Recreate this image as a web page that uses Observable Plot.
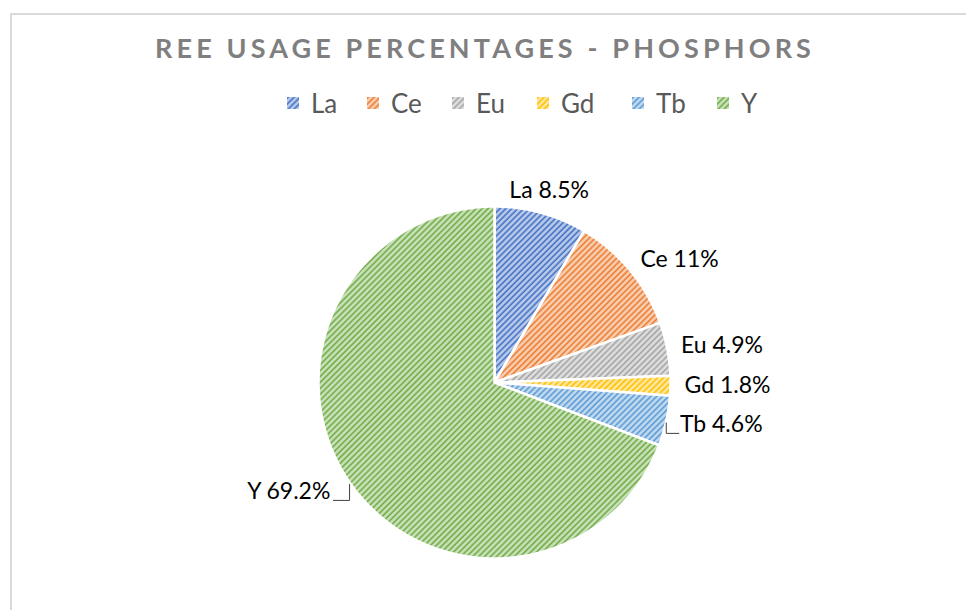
<!DOCTYPE html>
<html>
<head>
<meta charset="utf-8">
<script src="https://cdn.jsdelivr.net/npm/d3@7"></script>
<script src="https://cdn.jsdelivr.net/npm/@observablehq/plot@0.6"></script>
<style>
  html, body { margin: 0; padding: 0; background: #fff; }
  body { width: 966px; height: 610px; overflow: hidden; position: relative; font-family: Lato, "Open Sans", sans-serif; }
  #frame { position: absolute; left: 10px; top: 13px; width: 1000px; height: 700px; border-left: 2px solid #d9d9d9; border-top: 2px solid #d9d9d9; }
  #title { position: absolute; left: 0; top: 34px; width: 966px; text-align: center; font-weight: 700; font-size: 27px; line-height: 27px; color: #7f7f7f; white-space: nowrap; }
  #title span { display: inline-block; }
  #legend { position: absolute; left: 287px; top: 90px; height: 26px; width: 600px; font-size: 26px; line-height: 26px; color: #595959; }
  .item { position: absolute; top: 0; display: flex; align-items: center; height: 26px; }
  .item svg { margin-right: 12px; display: block; }
  .item:nth-child(1) { left: 0px; }
  .item:nth-child(2) { left: 80px; }
  .item:nth-child(3) { left: 165px; }
  .item:nth-child(4) { left: 250px; }
  .item:nth-child(5) { left: 345px; }
  .item:nth-child(6) { left: 430px; }
  #chart { position: absolute; left: 0; top: 130px; }
</style>
</head>
<body>
<div id="frame"></div>
<svg id="defs" width="0" height="0" style="position:absolute"><defs></defs></svg>
<div id="title"><span>REE USAGE PERCENTAGES - PHOSPHORS</span></div>
<div id="legend"></div>
<div id="chart"></div>
<script>
// ---- data ----
const categories = ["La", "Ce", "Eu", "Gd", "Tb", "Y"];
const values = [8.5, 11, 4.9, 1.8, 4.6, 69.2];
const labelTexts = ["La 8.5%", "Ce 11%", "Eu 4.9%", "Gd 1.8%", "Tb 4.6%", "Y 69.2%"];
const leaderFor = ["Tb", "Y"];
// ---- styles ----
const colors = ["#4472C4", "#ED7D31", "#A5A5A5", "#FFC000", "#5B9BD5", "#70AD47"];

// hatch patterns
const defs = d3.select("#defs defs");
categories.forEach((c, i) => {
  const tint = d3.interpolateRgb(colors[i], "#ffffff")(0.62);
  const p = defs.append("pattern")
    .attr("id", "pat-" + c)
    .attr("patternUnits", "userSpaceOnUse")
    .attr("width", 4.2).attr("height", 4.2)
    .attr("patternTransform", "rotate(45)");
  p.append("rect").attr("width", 4.2).attr("height", 4.2).attr("fill", tint);
  p.append("line").attr("x1", 1).attr("y1", -1).attr("x2", 1).attr("y2", 6)
    .attr("stroke", colors[i]).attr("stroke-width", 1.6);
});

// legend
const legend = d3.select("#legend");
categories.forEach((c) => {
  const it = legend.append("div").attr("class", "item");
  const s = it.append("svg").attr("width", 12).attr("height", 12);
  s.append("rect").attr("width", 12).attr("height", 12).attr("fill", `url(#pat-${c})`);
  it.append("span").text(c);
});

// fit title letter spacing to target width
(function () {
  const sp = document.querySelector("#title span");
  const target = 660;
  const w = sp.getBoundingClientRect().width;
  const n = sp.textContent.length;
  sp.style.letterSpacing = ((target - w) / n) + "px";
  sp.style.marginRight = -((target - w) / n) + "px";
})();

// pie geometry (pixel units in the plot's x/y scales)
const W = 966, H = 480;
const cx = 494, cy = 252, R = 176, gap = 16;
const arcs = d3.pie().sort(null)(values);
const poly = [];
const labels = [];
const leaders = [];
arcs.forEach((a, i) => {
  const k = categories[i];
  poly.push({ k, x: cx, y: cy });
  const steps = Math.max(4, Math.ceil((a.endAngle - a.startAngle) / 0.01));
  for (let s = 0; s <= steps; s++) {
    const t = a.startAngle + (a.endAngle - a.startAngle) * s / steps;
    poly.push({ k, x: cx + R * Math.sin(t), y: cy - R * Math.cos(t) });
  }
  poly.push({ k, x: cx, y: cy });
  const m = (a.startAngle + a.endAngle) / 2;
  const sn = Math.sin(m), cs = Math.cos(m);
  const lx = cx + (R + gap) * sn, ly = cy - (R + gap) * cs;
  const anchor = sn > 0.3 ? "start" : sn < -0.3 ? "end" : "middle";
  labels.push({ k, text: labelTexts[i], x: lx + (anchor === "start" ? -2 : anchor === "end" ? -6 : 4), y: ly + (anchor === "middle" ? -7 : 0), anchor });
  if (leaderFor.includes(k)) {
    const ex = cx + R * sn, ey = cy - R * cs;
    const by = ly + 9;
    const hx = anchor === "start" ? lx - 3 : lx - 3;
    leaders.push({ k, x: ex, y: ey + 2 }, { k, x: ex, y: by }, { k, x: hx, y: by });
  }
});

const chart = Plot.plot({
  width: W,
  height: H,
  margin: 0,
  x: { domain: [0, W], range: [0, W], axis: null },
  y: { domain: [0, H], range: [0, H], axis: null },
  color: { type: "identity" },
  style: { background: "transparent", overflow: "visible" },
  marks: [
    Plot.line(poly, { x: "x", y: "y", z: "k", fill: (d) => `url(#pat-${d.k})`, stroke: "#ffffff", strokeWidth: 2.5, strokeLinejoin: "round" }),
    Plot.line(leaders, { x: "x", y: "y", z: "k", stroke: "#404040", strokeWidth: 1 }),
    Plot.text(labels.filter(d => d.anchor === "start"), { x: "x", y: "y", text: "text", textAnchor: "start", fontSize: 23, fill: "#000", fontFamily: "Lato" }),
    Plot.text(labels.filter(d => d.anchor === "end"), { x: "x", y: "y", text: "text", textAnchor: "end", fontSize: 23, fill: "#000", fontFamily: "Lato" }),
    Plot.text(labels.filter(d => d.anchor === "middle"), { x: "x", y: "y", text: "text", textAnchor: "middle", fontSize: 23, fill: "#000", fontFamily: "Lato" })
  ]
});
document.getElementById("chart").appendChild(chart);
</script>
</body>
</html>
